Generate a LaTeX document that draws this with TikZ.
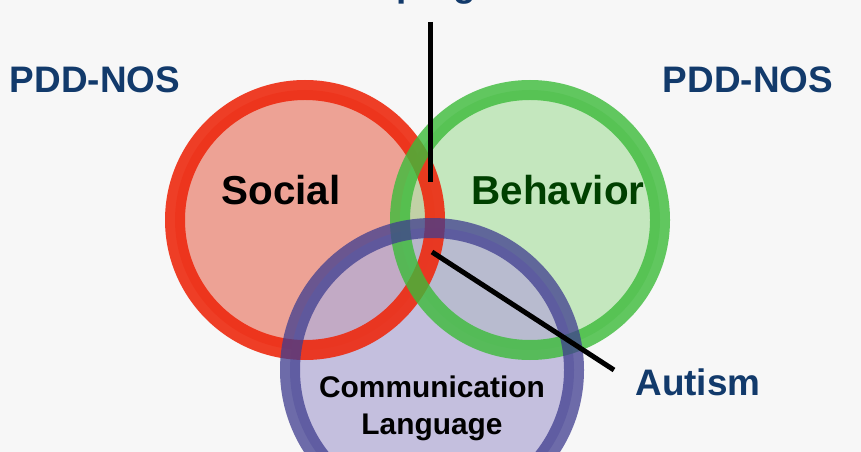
\documentclass[tikz,border=0pt]{standalone}
\usepackage{fontspec}
\setmainfont{Liberation Sans}
\usetikzlibrary{positioning}
\definecolor{navy}{HTML}{123A6B}
\definecolor{ringred}{HTML}{EE2A10}
\definecolor{ringgreen}{HTML}{3CBB3A}
\definecolor{ringblue}{HTML}{3F3D8F}
\definecolor{fillred}{HTML}{EC9484}
\definecolor{fillgreen}{HTML}{B3E2AC}
\definecolor{fillblue}{HTML}{B4ADD6}
\tikzset{
  label text/.style={font=\bfseries\fontsize{21}{24}\selectfont, text=navy},
  set text/.style={font=\bfseries\fontsize{23}{25}\selectfont},
  ring/.style={line width=0.4cm, draw opacity=0.9},
  pointer/.style={line width=0.1cm, black}
}
\begin{document}
\begin{tikzpicture}[x=0.02cm,y=-0.02cm]
\useasboundingbox[fill=white!97!black] (0,0) rectangle (861,452);
% circle fills
\fill[fillred, opacity=0.85] (305,220) circle (130);
\fill[fillgreen, opacity=0.75] (530,220) circle (130);
\fill[fillblue, opacity=0.75] (432,370) circle (142);
% rings
\draw[ring, ringred] (305,220) circle (130);
\draw[ring, ringgreen, draw opacity=0.8] (530,220) circle (130);
\draw[ring, ringblue, draw opacity=0.75] (432,370) circle (142);
% texts
\node[label text] (asp) at (430,-12) {Asperger};
\node[label text] (pddl) at (95,80) {PDD-NOS};
\node[label text] (pddr) at (748,80) {PDD-NOS};
\node[label text] (aut) at (698,382) {Autism};
\node[set text] (soc) at (281,190) {Social};
\node[set text, text=green!25!black] (beh) at (558,190) {Behavior};
\node[font=\bfseries\fontsize{17}{21}\selectfont, align=center] (com) at (432,408) {Communication\\Language};
% pointers
\coordinate (aspend) at (430,182);
\coordinate (autend) at (432,252);
\coordinate (autstart) at (614,370);
\draw[pointer] (430,22) -- (aspend);
\draw[pointer] (autstart) -- (autend);
\end{tikzpicture}
\end{document}
